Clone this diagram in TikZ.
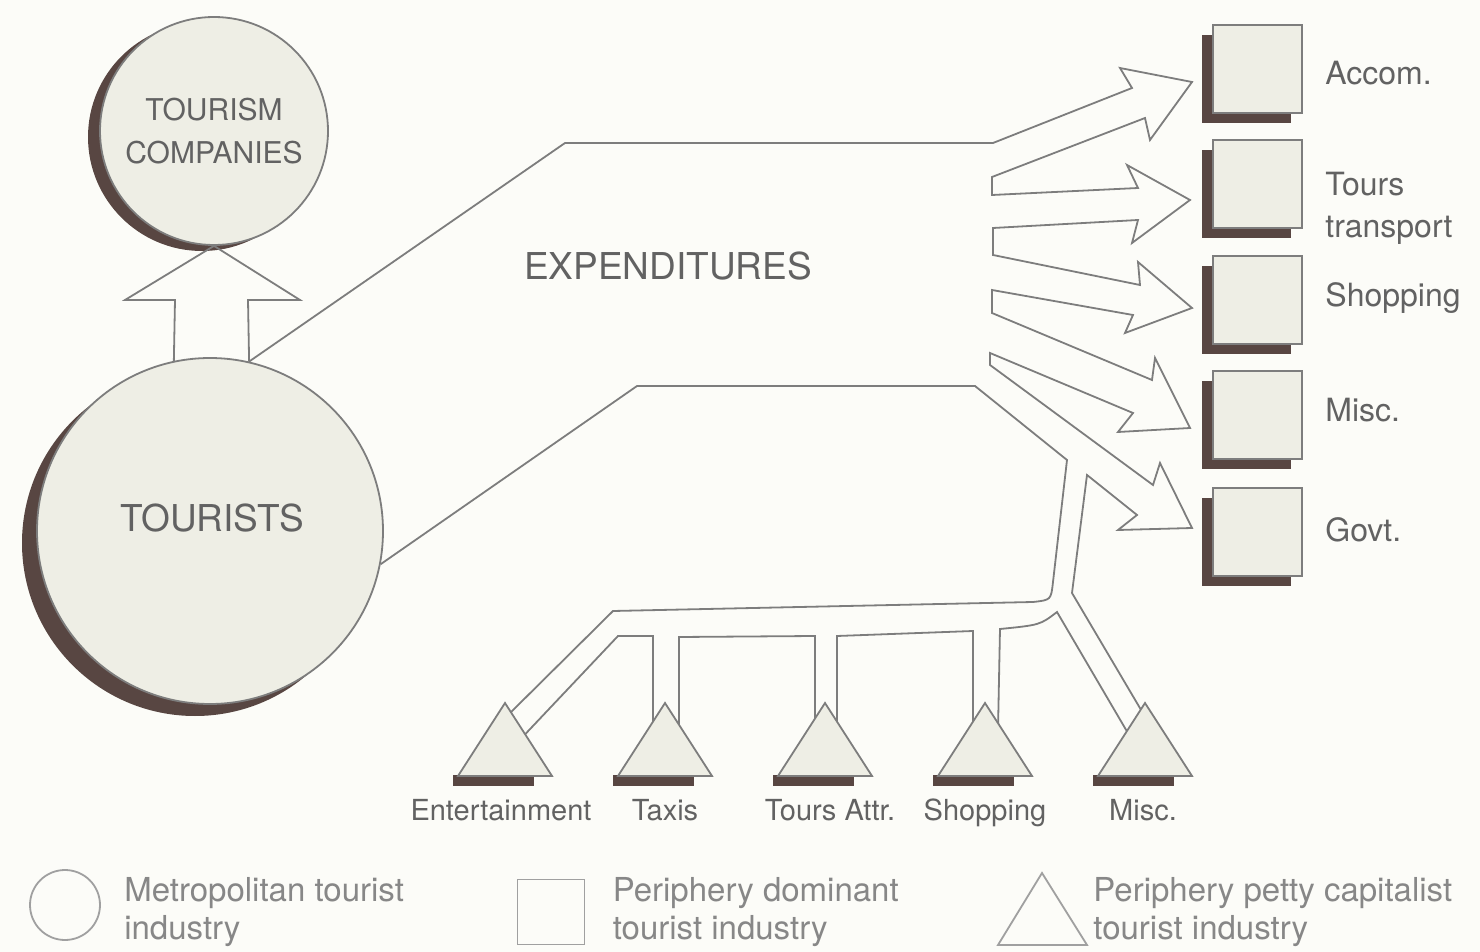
\documentclass[tikz,border=0pt]{standalone}
\usepackage{fontspec}
\setmainfont{TeX Gyre Heros}
\usetikzlibrary{positioning}
\definecolor{paperbg}{RGB}{252,252,248}
\definecolor{shapefill}{RGB}{238,238,229}
\definecolor{linegray}{RGB}{125,125,125}
\definecolor{textgray}{RGB}{98,98,98}
\definecolor{shadebrown}{RGB}{88,70,66}
\definecolor{legendgray}{RGB}{160,160,160}
\definecolor{legendtext}{RGB}{135,135,135}

\tikzset{
  flow/.style={draw=linegray, line width=0.9pt, line join=miter},
  bigcircle/.style={circle, draw=linegray, line width=0.9pt, fill=shapefill, inner sep=0pt},
  circleshade/.style={circle, fill=shadebrown, inner sep=0pt},
  sectorbox/.style={rectangle, draw=linegray, line width=1pt, fill=shapefill, minimum width=44.5pt, minimum height=44pt},
  sectorshade/.style={rectangle, fill=shadebrown, minimum width=44.5pt, minimum height=44pt},
  pettytri/.style={draw=linegray, line width=0.9pt, fill=shapefill, line join=miter},
  caplabel/.style={text=textgray, inner sep=0pt, font=\fontsize{18.5}{22}\selectfont},
  sidelabel/.style={text=textgray, inner sep=0pt, anchor=west, align=left, font=\fontsize{16}{21}\selectfont},
  footlabel/.style={text=textgray, inner sep=0pt, text height=1.6ex, text depth=.5ex, font=\fontsize{14.5}{17}\selectfont},
  keyshape/.style={draw=legendgray, line width=0.9pt},
  keylabel/.style={text=legendtext, inner sep=0pt, anchor=west, align=left, font=\fontsize{16.5}{19}\selectfont},
}

\begin{document}
\begin{tikzpicture}[x=0.5pt,y=-0.5pt]
\fill[paperbg] (0,0) rectangle (1480,952);
\useasboundingbox (0,0) rectangle (1480,952);

% metropolitan circles
\node[circleshade, minimum size=114pt] at (202,137) {};
\node[bigcircle, minimum size=114pt, align=center, text=textgray, font=\fontsize{15}{21.5}\selectfont] (comp) at (214,131) {TOURISM\\COMPANIES};
\node[circleshade, minimum size=173pt] at (195,543) {};
\node[bigcircle, minimum size=173pt] (tourists) at (210,531) {};
\node[caplabel] (touriststxt) at (212,518) {TOURISTS};

% block arrow up to the companies
\draw[flow] (tourists.102) -- (175,300) -- (125,300) -- (comp.south) -- (300,300) -- (248,300) -- (tourists.77);

% upper stream and the fan of arrows
\draw[flow] (tourists.77) -- (565,143) -- (993,143)
  -- (1132,88) -- (1120,68) -- (1192,82) -- (1150,140) -- (1145,118) -- (992,177) -- (992,195)
  -- (1138,188) -- (1127,165) -- (1190,200) -- (1132,243) -- (1138,220) -- (993,228) -- (993,255)
  -- (1140,285) -- (1138,262) -- (1192,308) -- (1125,333) -- (1133,315) -- (992,290) -- (992,313)
  -- (1152,380) -- (1155,358) -- (1190,428) -- (1118,432) -- (1133,413) -- (990,353) -- (990,365)
  -- (1153,485) -- (1160,463) -- (1192,528) -- (1118,530) -- (1137,515) -- (1087,475)
  -- (1072,593) -- (1147,720);

% lower stream down to the petty sector
\draw[flow] (tourists.-11) -- (637,386) -- (975,386) -- (1067,460) -- (1053,582)
  .. controls (1051,600) .. (1033,602) -- (613,611) -- (500,723);
\draw[flow] (515,745) -- (618,636) -- (653,636) -- (653,730);
\draw[flow] (679,730) -- (679,637) -- (815,636) -- (815,730);
\draw[flow] (837,730) -- (837,636) -- (973,631) -- (973,730);
\draw[flow] (998,730) -- (1000,629) .. controls (1040,625) .. (1057,612) -- (1132,740);

\node[caplabel] (exptxt) at (668,266) {EXPENDITURES};

% periphery dominant sector
\foreach \y/\ly/\name/\txt in {69/73/accom/Accom., 184/208/tours/{Tours\\transport}, 300/298/shop/Shopping, 415/410/misc/Misc., 532/530/govt/Govt.} {
  \node[sectorshade] at (1246.5,\y+10) {};
  \node[sectorbox] (\name) at (1257.5,\y) {};
  \node[sidelabel] (\name-lbl) at (1325,\ly) {\txt};
}

% periphery petty capitalist sector
\foreach \x/\lx/\name/\txt in {505/501/ent/Entertainment, 665/665/taxi/Taxis, 825/830/attr/Tours Attr., 985/985/pshop/Shopping, 1145/1143/pmisc/Misc.} {
  \fill[shadebrown] (\x-52,775) rectangle (\x+29,786);
  \draw[pettytri] (\x,703) -- (\x+47,776) -- (\x-47,776) -- cycle;
  \coordinate (\name) at (\x,776);
  \node[footlabel] (\name-lbl) at (\lx,815) {\txt};
}

% key
\node[keyshape, circle, minimum size=35pt, inner sep=0pt] (keycirc) at (65,905) {};
\node[keylabel, right=11.5pt of keycirc, yshift=-3.5pt] (keycirctxt) {Metropolitan tourist\\industry};
\node[keyshape, rectangle, minimum width=33.5pt, minimum height=32.5pt, inner sep=0pt] (keybox) at (551,912) {};
\node[keylabel, right=13.5pt of keybox] (keyboxtxt) {Periphery dominant\\tourist industry};
\draw[keyshape, line join=miter] (1042,873) -- (1087,945) -- (998,945) -- cycle;
\coordinate (keytri) at (1087,912);
\node[keylabel, right=3pt of keytri] (keytritxt) {Periphery petty capitalist\\tourist industry};
\end{tikzpicture}
\end{document}
